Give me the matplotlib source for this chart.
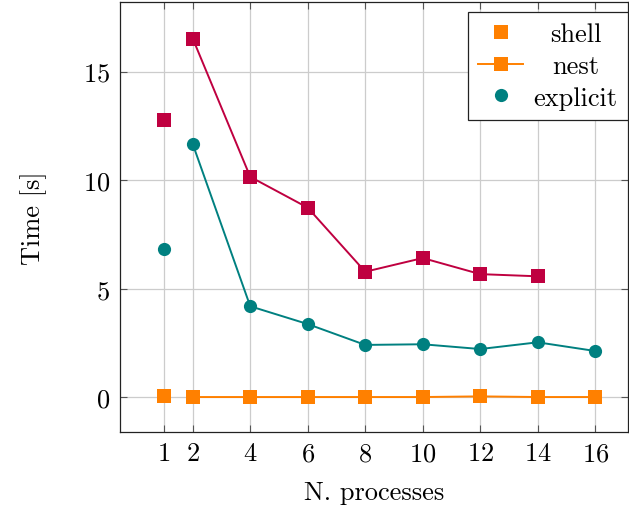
import matplotlib
matplotlib.use("Agg")
import matplotlib.pyplot as plt

plt.rcParams['font.family'] = 'serif'
plt.rcParams['font.serif'] = ['cmr10']
plt.rcParams['mathtext.fontset'] = 'cm'
plt.rcParams['axes.formatter.use_mathtext'] = True

# data
x_single = [1]
x_multi = [2, 4, 6, 8, 10, 12, 14, 16]
x_purple = [2, 4, 6, 8, 10, 12, 14]

shell_single = [0.06]
nest_multi = [0.01, 0.01, 0.01, 0.01, 0.01, 0.04, 0.01, 0.01]

purple_single = [12.76]
purple_multi = [16.52, 10.15, 8.73, 5.78, 6.41, 5.67, 5.57]

explicit_single = [6.81]
explicit_multi = [11.66, 4.19, 3.37, 2.41, 2.44, 2.22, 2.53, 2.13]

xticks = [1, 2, 4, 6, 8, 10, 12, 14, 16]
yticks = [0, 5, 10, 15]

orange = (1.0, 0.5, 0.0)
teal = (0.0, 0.5, 0.5)
purple = (0.75, 0.0, 0.25)

fig = plt.figure(figsize=(6.29, 5.10), dpi=100)
ax = fig.add_axes([0.1908, 0.151, 0.8076, 0.843])

ms = 9.5
ax.plot(x_single, shell_single, 's', color=orange, ms=ms, mew=0, label='shell', zorder=3)
ax.plot(x_multi, nest_multi, '-s', color=orange, ms=ms, mew=0, lw=1.4, label='nest', zorder=3)
ax.plot(x_single, explicit_single, 'o', color=teal, ms=ms, mew=0, label='explicit', zorder=3)
ax.plot(x_multi, explicit_multi, '-o', color=teal, ms=ms, mew=0, lw=1.4, label='_nolegend_', zorder=3)
ax.plot(x_single, purple_single, 's', color=purple, ms=ms, mew=0, label='_nolegend_', zorder=3)
ax.plot(x_purple, purple_multi, '-s', color=purple, ms=ms, mew=0, lw=1.4, label='_nolegend_', zorder=3)

ax.set_xlim(-0.53, 17.14)
ax.set_ylim(-1.6, 18.2)
ax.set_xticks(xticks)
ax.set_yticks(yticks)
ax.grid(True, color='#cccccc', lw=0.9)
ax.set_axisbelow(True)
ax.tick_params(direction='in', top=True, right=True, length=5, width=0.8,
               color='#555555', labelsize=19, pad=7)
for s in ax.spines.values():
    s.set_linewidth(0.9)
    s.set_color('#222222')

ax.set_xlabel('N. processes', fontsize=19, labelpad=11)
ax.set_ylabel('Time [s]', fontsize=19, labelpad=26)

leg = ax.legend(loc='upper right', bbox_to_anchor=(1.0, 1 - 10 / 430), borderaxespad=0,
                fontsize=19, frameon=True, fancybox=False,
                edgecolor='#222222', framealpha=1,
                handlelength=1.7, handletextpad=0.38, borderpad=0.4, labelspacing=0.3)
leg.get_frame().set_linewidth(0.9)

# centre legend texts in their column, like pgfplots
fig.canvas.draw()
r = fig.canvas.get_renderer()
texts = leg.get_texts()
widths = [t.get_window_extent(r).width for t in texts]
wmax = max(widths)
for t, w in zip(texts, widths):
    t.set_x((wmax - w) / 2)

fig.savefig('out.png', dpi=100)
